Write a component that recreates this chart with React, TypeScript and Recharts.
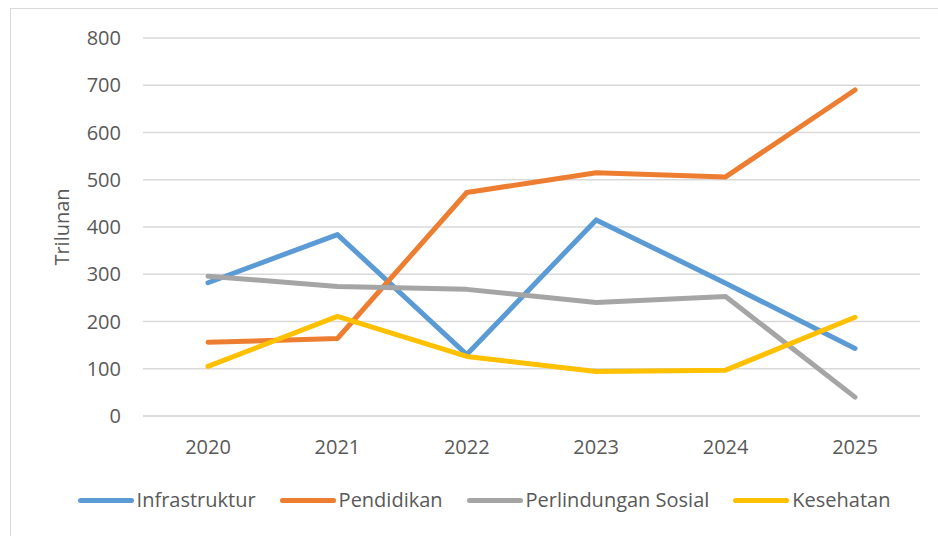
import { LineChart, Line, XAxis, YAxis, CartesianGrid } from 'recharts'

const years = ['2020', '2021', '2022', '2023', '2024', '2025']
const infrastruktur = [282, 384, 130, 415, 281, 143]
const pendidikan = [156, 164, 473, 515, 506, 690]
const perlindunganSosial = [296, 274, 268, 240, 253, 40]
const kesehatan = [105, 211, 126, 94, 97, 209]
const yTicks = [0, 100, 200, 300, 400, 500, 600, 700, 800]

const series = [
  { key: 'infrastruktur', name: 'Infrastruktur', color: '#5B9BD5', values: infrastruktur },
  { key: 'pendidikan', name: 'Pendidikan', color: '#ED7D31', values: pendidikan },
  { key: 'perlindungan', name: 'Perlindungan Sosial', color: '#A5A5A5', values: perlindunganSosial },
  { key: 'kesehatan', name: 'Kesehatan', color: '#FFC000', values: kesehatan },
]

const data = years.map((year, i) => {
  const row: Record<string, string | number> = { year }
  series.forEach(s => { row[s.key] = s.values[i] })
  return row
})

const font = '"Open Sans", sans-serif'
const textColor = '#595959'

export default function App() {
  return (
    <div style={{ position: 'absolute', left: 0, top: 0, width: 938, height: 536, overflow: 'hidden', background: '#fff', fontFamily: font }}>
      <div style={{ position: 'absolute', left: 10, top: 8, width: 960, height: 560, border: '1.5px solid #d9d9d9' }} />
      <LineChart
        width={938}
        height={536}
        data={data}
        margin={{ top: 38, right: 18, bottom: 90, left: 0 }}
        style={{ position: 'absolute', left: 0, top: 0 }}
      >
        <CartesianGrid vertical={false} stroke="#d9d9d9" strokeWidth={1.5} />
        <XAxis
          dataKey="year"
          height={30}
          padding={{ left: 65, right: 65 }}
          axisLine={{ stroke: '#d9d9d9', strokeWidth: 1.5 }}
          tickLine={false}
          tickSize={0}
          tickMargin={24}
          tick={{ fill: textColor, fontSize: 20, fontFamily: font }}
        />
        <YAxis
          width={143}
          domain={[0, 800]}
          ticks={yTicks}
          axisLine={false}
          tickLine={false}
          tickSize={0}
          tickMargin={22}
          tick={{ fill: textColor, fontSize: 20, fontFamily: font }}
          label={{ value: 'Trilunan', angle: -90, position: 'center', dx: -10, fill: textColor, fontSize: 20, fontFamily: font }}
        />
        {series.map(s => (
          <Line
            key={s.key}
            dataKey={s.key}
            name={s.name}
            stroke={s.color}
            strokeWidth={5}
            strokeLinecap="round"
            strokeLinejoin="round"
            dot={false}
            activeDot={false}
            isAnimationActive={false}
          />
        ))}
      </LineChart>
      <div style={{ position: 'absolute', left: 0, top: 486, width: 938, paddingLeft: 30, boxSizing: 'border-box', display: 'flex', justifyContent: 'center', gap: 24 }}>
        {series.map(s => (
          <div key={s.key} style={{ display: 'flex', alignItems: 'center' }}>
            <span style={{ display: 'inline-block', width: 56, height: 5, borderRadius: 3, background: s.color, marginRight: 3 }} />
            <span style={{ color: textColor, fontSize: 20, lineHeight: '28px' }}>{s.name}</span>
          </div>
        ))}
      </div>
    </div>
  )
}
